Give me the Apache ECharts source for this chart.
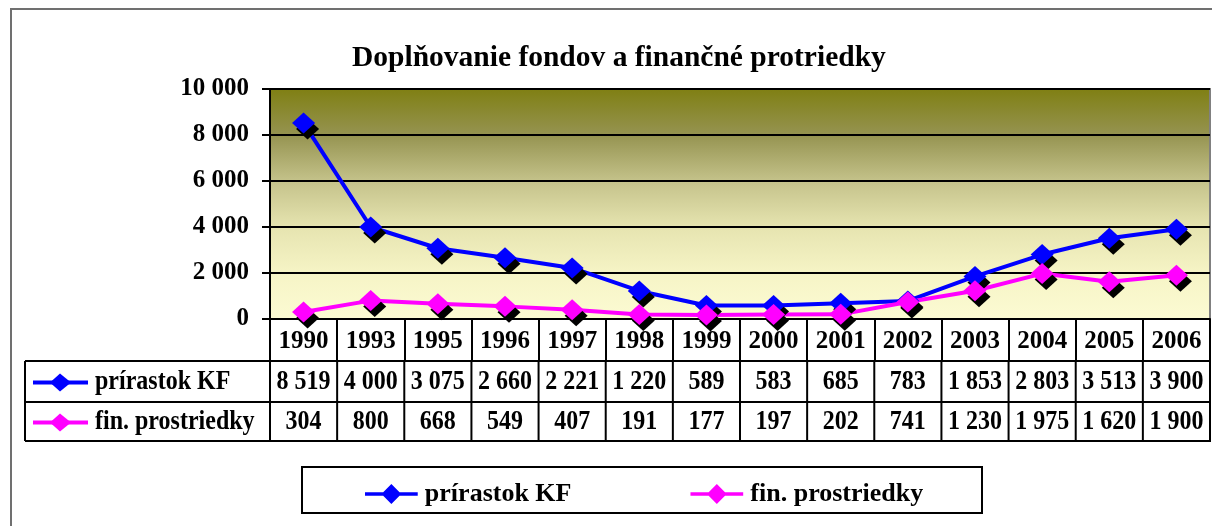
<!DOCTYPE html>
<html>
<head>
    <meta charset="utf-8">
    <title>Doplňovanie fondov a finančné protriedky</title>
    <style type="text/css">
        html,
        body {
            margin: 0;
            padding: 0;
            background: #fff;
        }

        #main {
            width: 1212px;
            height: 526px;
        }
    </style>
</head>

<body>
    <div id="main"></div>
    <script src="https://cdn.jsdelivr.net/npm/echarts@6/dist/echarts.min.js"></script>
    <script type="text/javascript">
        var chartTitle = 'Doplňovanie fondov a finančné protriedky';
        var years = ['1990', '1993', '1995', '1996', '1997', '1998', '1999', '2000', '2001', '2002', '2003', '2004', '2005', '2006'];
        var prirastokKF = [8519, 4000, 3075, 2660, 2221, 1220, 589, 583, 685, 783, 1853, 2803, 3513, 3900];
        var finProstriedky = [304, 800, 668, 549, 407, 191, 177, 197, 202, 741, 1230, 1975, 1620, 1900];
        var seriesNames = ['prírastok KF', 'fin. prostriedky'];
        var seriesColors = ['#0000ff', '#ff00ff'];

        var FONT = '"Liberation Serif", "Times New Roman", serif';
        var myChart;

        function fmt(v) {
            return String(v).replace(/\B(?=(\d{3})+(?!\d))/g, ' ');
        }

        function lineSeries(name, data, color) {
            return {
                name: name,
                type: 'line',
                data: data,
                symbol: 'diamond',
                symbolSize: [23, 21],
                showAllSymbol: true,
                lineStyle: { color: color, width: 4 },
                itemStyle: {
                    color: color,
                    shadowColor: '#000',
                    shadowBlur: 0,
                    shadowOffsetX: 4,
                    shadowOffsetY: 6
                },
                emphasis: { disabled: true }
            };
        }

        window.onload = function () {
            myChart = echarts.init(document.getElementById('main'), null, { renderer: 'canvas' });
            myChart.setOption({
                animation: false,
                backgroundColor: '#fff',
                title: {
                    text: chartTitle,
                    left: 347,
                    top: 38,
                    textStyle: { fontFamily: FONT, fontWeight: 'bold', fontSize: 29.5, color: '#000' }
                },
                legend: {
                    data: seriesNames.map(function (n) {
                        return { name: n, icon: 'path://M0,8 L20,8 L29,-1 L38,8 L58,8 L58,12 L38,12 L29,21 L20,12 L0,12 Z' };
                    }),
                    left: 360,
                    top: 476,
                    itemWidth: 57,
                    itemHeight: 20,
                    itemGap: 119,
                    selectedMode: false,
                    itemStyle: { shadowBlur: 0, shadowOffsetX: 0, shadowOffsetY: 0, shadowColor: 'transparent' },
                    textStyle: { fontFamily: FONT, fontWeight: 'bold', fontSize: 26, color: '#000' }
                },
                grid: {
                    left: 270,
                    right: 2,
                    top: 89,
                    bottom: 207,
                    show: true,
                    borderColor: '#808080',
                    borderWidth: 2,
                    backgroundColor: new echarts.graphic.LinearGradient(0, 0, 0, 1, [
                        { offset: 0, color: '#7f7f12' },
                        { offset: 0.2, color: '#959350' },
                        { offset: 0.4, color: '#c4c28a' },
                        { offset: 0.6, color: '#e6e4b0' },
                        { offset: 0.8, color: '#f6f4c6' },
                        { offset: 1, color: '#fcfbd3' }
                    ])
                },
                xAxis: {
                    type: 'category',
                    data: years,
                    boundaryGap: true,
                    axisLine: { lineStyle: { color: '#000', width: 2 } },
                    axisTick: { show: true, interval: 0, length: 42, lineStyle: { color: '#000', width: 2 } },
                    axisLabel: {
                        interval: 0,
                        margin: 10,
                        fontFamily: FONT,
                        fontWeight: 'bold',
                        fontSize: 25,
                        color: '#000'
                    },
                    splitLine: { show: false }
                },
                yAxis: {
                    type: 'value',
                    min: 0,
                    max: 10000,
                    interval: 2000,
                    axisLine: { show: true, lineStyle: { color: '#000', width: 2 } },
                    axisTick: { show: true, length: 8, lineStyle: { color: '#000', width: 2 } },
                    axisLabel: {
                        margin: 21,
                        fontFamily: FONT,
                        fontWeight: 'bold',
                        fontSize: 25,
                        color: '#000',
                        formatter: fmt
                    },
                    splitLine: { show: true, lineStyle: { color: '#000', width: 2 } }
                },
                series: [
                    lineSeries(seriesNames[0], prirastokKF, seriesColors[0]),
                    lineSeries(seriesNames[1], finProstriedky, seriesColors[1])
                ]
            });
            drawTable();
        };

        // data table + frames under the plot
        function drawTable() {
            var rowTop = 361, rowMid = 402, rowBot = 441, tblLeft = 25;
            var x0 = myChart.convertToPixel({ xAxisIndex: 0 }, 0);
            var x1 = myChart.convertToPixel({ xAxisIndex: 0 }, 1);
            var step = x1 - x0;
            var firstEdge = x0 - step / 2;
            var lastEdge = firstEdge + step * years.length;
            var black = { stroke: '#000', lineWidth: 2 };
            var els = [];

            // outer chart frame
            els.push({ type: 'rect', shape: { x: 11, y: 9, width: 1400, height: 800 }, style: { fill: null, stroke: '#707070', lineWidth: 2 } });
            // legend frame
            els.push({ type: 'rect', shape: { x: 302, y: 467, width: 680, height: 46 }, style: { fill: null, stroke: '#000', lineWidth: 2 } });

            [rowTop, rowMid, rowBot].forEach(function (y) {
                els.push({ type: 'line', shape: { x1: tblLeft, y1: y, x2: lastEdge + 1, y2: y }, style: black });
            });
            els.push({ type: 'line', shape: { x1: tblLeft, y1: rowTop, x2: tblLeft, y2: rowBot }, style: black });
            for (var i = 0; i <= years.length; i++) {
                var ex = firstEdge + step * i;
                els.push({ type: 'line', shape: { x1: ex, y1: rowTop, x2: ex, y2: rowBot }, style: black });
            }

            var rows = [prirastokKF, finProstriedky];
            var rowCenters = [(rowTop + rowMid) / 2 + 1, (rowMid + rowBot) / 2 + 1];
            rows.forEach(function (vals, r) {
                var cy = rowCenters[r];
                var c = seriesColors[r];
                // legend key inside the table
                els.push({ type: 'line', shape: { x1: 33, y1: cy, x2: 88, y2: cy }, style: { stroke: c, lineWidth: 4 } });
                els.push({ type: 'polygon', shape: { points: [[50, cy], [60, cy - 9], [71, cy], [60, cy + 9]] }, style: { fill: c } });
                els.push({
                    type: 'text', x: 95, y: cy, scaleY: 1.12,
                    style: { text: seriesNames[r], font: 'bold 24px ' + FONT, fill: '#000', align: 'left', verticalAlign: 'middle' }
                });
                vals.forEach(function (v, i) {
                    var cx = myChart.convertToPixel({ xAxisIndex: 0 }, i);
                    els.push({
                        type: 'text',
                        x: cx,
                        y: cy,
                        scaleY: 1.12,
                        style: { text: fmt(v), font: 'bold 24px ' + FONT, fill: '#000', align: 'center', verticalAlign: 'middle' }
                    });
                });
            });

            myChart.setOption({ graphic: { elements: els } });
        }
    </script>
</body>

</html>
